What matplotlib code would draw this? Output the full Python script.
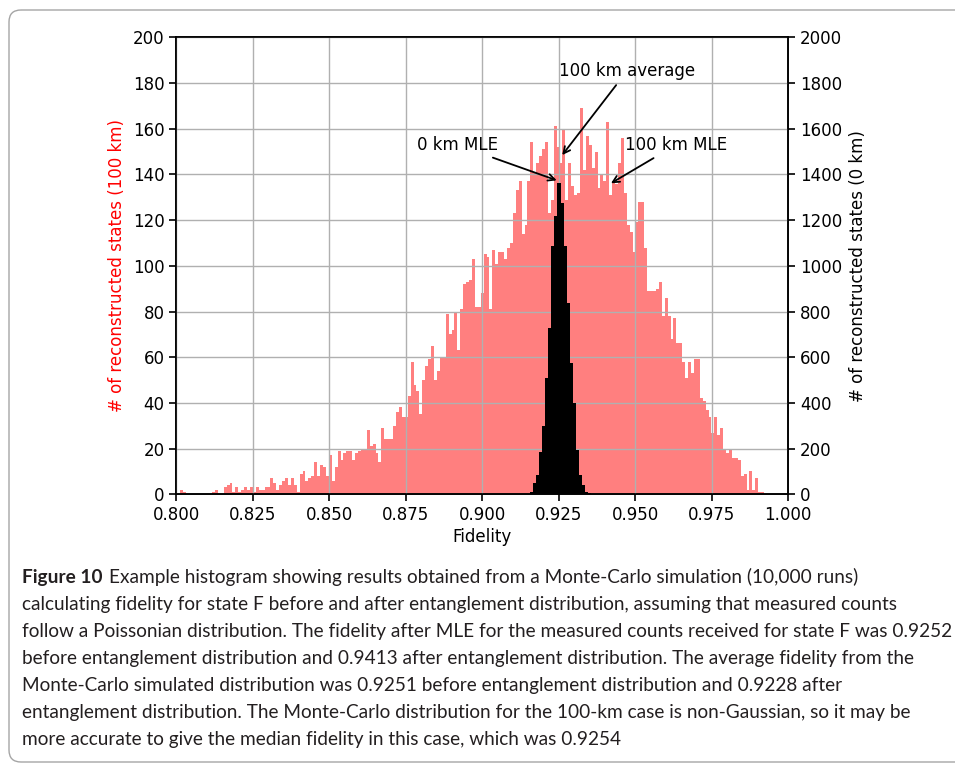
import numpy as np
import matplotlib
matplotlib.use("Agg")
from matplotlib import pyplot as plt
from matplotlib import font_manager
from matplotlib.patches import FancyBboxPatch

# 100 km run: counts in 200 equal bins between min and max fidelity
fid_100km = (0.8012, 0.9921)
counts_100km = [
    2, 1, 0, 0, 0, 0, 0, 0, 0, 0, 0, 1, 2, 0, 0, 3, 4, 5, 1, 3,
    1, 2, 3, 2, 3, 1, 3, 2, 2, 3, 3, 7, 5, 2, 4, 6, 7, 4, 7, 4,
    1, 9, 10, 6, 7, 8, 14, 8, 13, 12, 8, 17,
    6, 12, 19, 15, 18, 19, 19, 15, 18, 19, 20, 20, 28, 21, 22, 18, 14, 29,
    24, 24, 24, 30, 36, 38, 34, 34, 43,
    58, 48, 45, 35, 50, 56, 59, 65, 50, 54, 60, 60, 79, 70, 72, 80, 63, 81, 92, 93,
    94, 103, 82, 82, 88, 105, 104, 81, 107, 101, 106, 106, 103, 108, 110, 123,
    133, 137, 114, 118, 137, 154,
    141, 145, 148, 151, 154, 123, 129, 161, 152, 145, 160, 129, 145, 135, 131, 132,
    169, 142, 157, 153, 143, 150, 134, 140, 137, 163, 131, 137, 136, 145, 156, 132,
    118, 115, 106, 119, 128, 128, 108, 89, 89, 89, 90, 93, 78, 86, 78, 68, 77, 66,
    66, 58, 51, 58, 53, 59, 59, 42, 41, 37, 34, 27, 34, 26, 29, 20, 18, 20, 16, 16,
    15, 8, 9, 2, 10, 2, 7, 1, 1,
]

# 0 km run
fid_0km = (0.9155, 0.9357)
counts_0km = [12, 48, 85, 185, 300, 508, 727, 1085, 1216, 1362,
              1275, 1085, 837, 574, 399, 194, 85, 41, 12, 5]

# fidelity values pointed at by the arrows
mle_0km = 0.9252
avg_100km = 0.9256
mle_100km = 0.9413

xticks = [0.800, 0.825, 0.850, 0.875, 0.900, 0.925, 0.950, 0.975, 1.000]

caption_head = "Figure 10"
caption_lines = [
    "Example histogram showing results obtained from a Monte-Carlo simulation (10,000 runs)",
    "calculating fidelity for state F before and after entanglement distribution, assuming that measured counts",
    "follow a Poissonian distribution. The fidelity after MLE for the measured counts received for state F was 0.9252",
    "before entanglement distribution and 0.9413 after entanglement distribution. The average fidelity from the",
    "Monte-Carlo simulated distribution was 0.9251 before entanglement distribution and 0.9228 after",
    "entanglement distribution. The Monte-Carlo distribution for the 100-km case is non-Gaussian, so it may be",
    "more accurate to give the median fidelity in this case, which was 0.9254",
]

W, H = 955, 771
plt.rcParams["font.family"] = ["DejaVu Sans"]
plt.rcParams["font.size"] = 12
fig = plt.figure(figsize=(W / 100, H / 100), dpi=100)

# page layer in pixel units, for the frame and the caption
page = fig.add_axes([0, 0, 1, 1], zorder=0)
page.set_xlim(0, W)
page.set_ylim(H, 0)
page.axis("off")
page.add_patch(FancyBboxPatch((9, 10), 980, 752,
                              boxstyle="round,pad=0,rounding_size=12",
                              fc="none", ec="#a5a5a5", lw=1.0))

ax = fig.add_axes([176.2 / W, 1 - 494.3 / H, 612 / W, 457 / H], zorder=1)
ax2 = ax.twinx()

edges_100 = np.linspace(fid_100km[0], fid_100km[1], len(counts_100km) + 1)
edges_0 = np.linspace(fid_0km[0], fid_0km[1], len(counts_0km) + 1)
ax.hist(edges_100[:-1], bins=edges_100, weights=counts_100km, color="r", alpha=0.5)
ax2.hist(edges_0[:-1], bins=edges_0, weights=counts_0km, color="k")

ax.set_xlim(0.8, 1.0)
ax.set_ylim(0, 200)
ax2.set_ylim(0, 2000)
ax.set_xticks(xticks)
ax.set_xticklabels(["%.3f" % t for t in xticks])
ax.set_yticks(range(0, 201, 20))
ax2.set_yticks(range(0, 2001, 200))
ax.grid(True, color="#b0b0b0", lw=1.0)
ax.set_axisbelow(False)
for a in (ax, ax2):
    for s in a.spines.values():
        s.set_linewidth(1.2)
    a.tick_params(width=1.2, length=5)

ax.set_xlabel("Fidelity", labelpad=3)
ax.set_ylabel("# of reconstructed states (100 km)", color="r", labelpad=5)
ax2.set_ylabel("# of reconstructed states (0 km)", labelpad=5)

arrow = dict(arrowstyle="->", color="k", lw=1.3)
ax2.annotate("0 km MLE", xy=(mle_0km, 1370), xytext=(0.8918, 1529),
             ha="center", va="center", arrowprops=arrow)
ax2.annotate("100 km average", xy=(avg_100km, 1475), xytext=(0.9473, 1852),
             ha="center", va="center", arrowprops=arrow)
ax2.annotate("100 km MLE", xy=(mle_100km, 1355), xytext=(0.9633, 1529),
             ha="center", va="center", arrowprops=arrow)

# caption underneath the chart
names = {f.name for f in font_manager.fontManager.ttflist}
capfont = "Liberation Sans Narrow" if "Liberation Sans Narrow" in names else "Lato"
capcol = "#231f20"
x0, y0, step = 22, 583, 27
size = 13.0
head = page.text(x0, y0, caption_head, fontsize=size, fontweight="bold",
                 family=capfont, color=capcol, va="baseline")
body = []
for i, line in enumerate(caption_lines):
    body.append(page.text(x0, y0 + i * step, line, fontsize=size,
                          family=capfont, color=capcol, va="baseline"))

# scale the caption so the widest line runs to the frame edge
fig.canvas.draw()
r = fig.canvas.get_renderer()
widest = body[2].get_window_extent(r).width
size = size * 931 / widest
head.set_fontsize(size)
for t in body:
    t.set_fontsize(size)
fig.canvas.draw()
hw = head.get_window_extent(r).width
body[0].set_x(x0 + hw + size * 0.45)

fig.savefig("out.png", dpi=100)
